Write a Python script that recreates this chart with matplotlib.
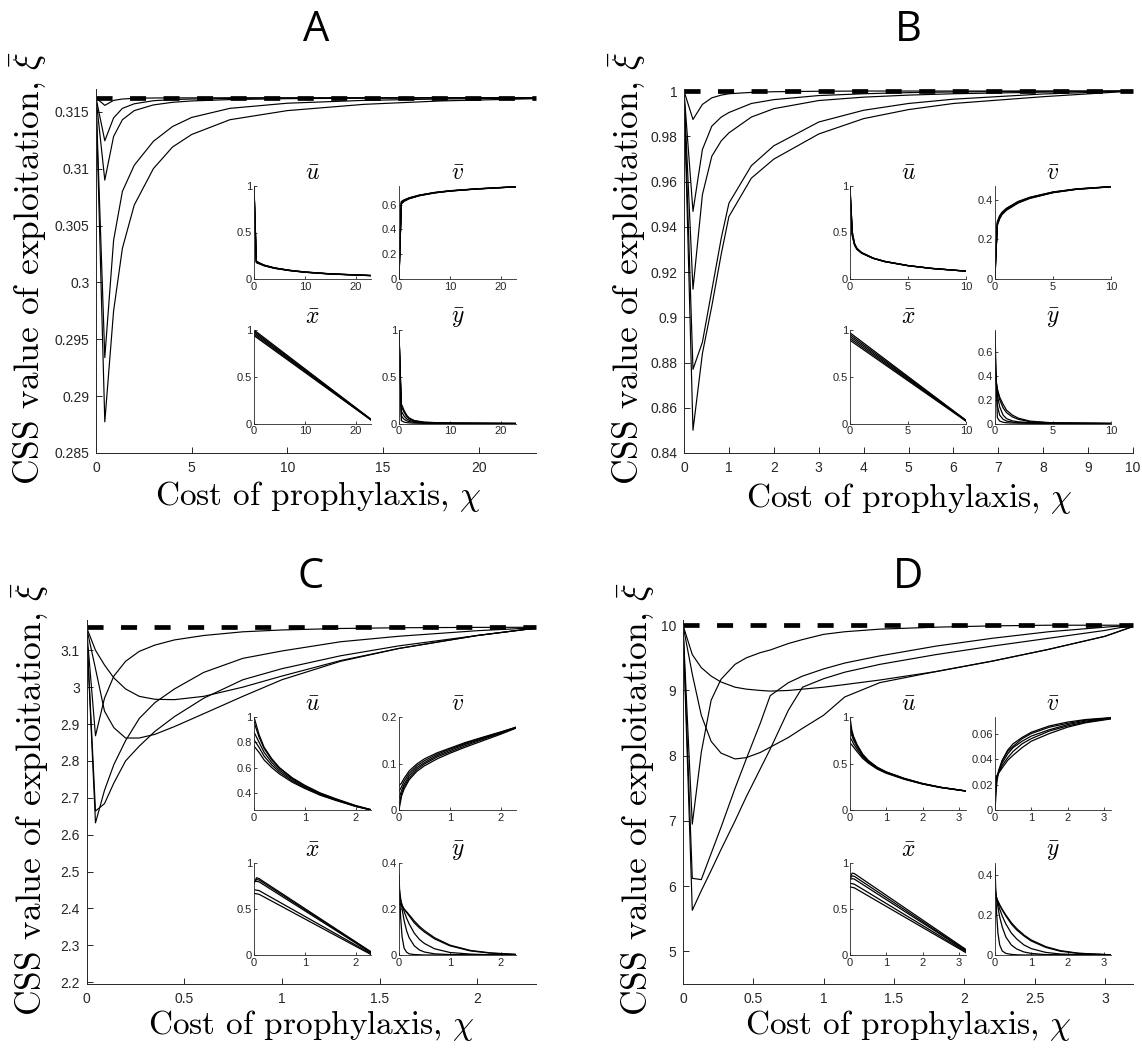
import matplotlib
matplotlib.use("Agg")
import matplotlib.pyplot as plt
from matplotlib.ticker import FuncFormatter, FixedLocator

plt.rcParams['mathtext.fontset'] = 'cm'

W, H = 1142, 1053

# ---------------- main panels: CSS exploitation vs prophylaxis cost ----------------
A_chi = [0, 0.46, 0.92, 1.38, 2.0, 3.0, 4.0, 5.0, 7.0, 10, 14, 18, 23]
A_xi = [
    [0.31623, 0.31556, 0.31600, 0.31612, 0.31618, 0.31621, 0.31622, 0.31622, 0.31623, 0.31623, 0.31623, 0.31623, 0.31623],
    [0.31623, 0.31245, 0.31446, 0.31530, 0.31570, 0.31597, 0.31607, 0.31612, 0.31617, 0.31620, 0.31622, 0.31623, 0.31623],
    [0.31623, 0.30899, 0.31283, 0.31430, 0.31510, 0.31560, 0.31583, 0.31595, 0.31607, 0.31615, 0.31619, 0.31621, 0.31623],
    [0.31623, 0.29339, 0.30370, 0.30800, 0.31030, 0.31240, 0.31370, 0.31450, 0.31530, 0.31575, 0.31600, 0.31612, 0.31620],
    [0.31623, 0.28774, 0.29750, 0.30300, 0.30680, 0.31000, 0.31190, 0.31300, 0.31430, 0.31510, 0.31565, 0.31595, 0.31615],
]
A_ess = 0.31623
A_xticks = [0, 5, 10, 15, 20]
A_yticks = [0.285, 0.29, 0.295, 0.3, 0.305, 0.31, 0.315]

B_chi = [0, 0.2, 0.41, 0.62, 0.83, 1.0, 1.5, 2.0, 3.0, 4.0, 5.0, 6.0, 8.0, 10.0]
B_xi = [
    [1, 0.98744, 0.99409, 0.9970, 0.9982, 0.9988, 0.9994, 0.9997, 0.9999, 1, 1, 1, 1, 1],
    [1, 0.9468, 0.97415, 0.9845, 0.9885, 0.9905, 0.9945, 0.9962, 0.9980, 0.9988, 0.9993, 0.9996, 0.9999, 1],
    [1, 0.9124, 0.95421, 0.9712, 0.9780, 0.9815, 0.9885, 0.9922, 0.9958, 0.9973, 0.9982, 0.9988, 0.9995, 1],
    [1, 0.87696, 0.889, 0.912, 0.935, 0.9504, 0.9670, 0.9758, 0.9863, 0.9915, 0.9945, 0.9964, 0.9987, 1],
    [1, 0.85007, 0.884, 0.905, 0.928, 0.9445, 0.9615, 0.9699, 0.9810, 0.9878, 0.9918, 0.9945, 0.9975, 1],
]
B_ess = 1.0
B_xticks = [0, 1, 2, 3, 4, 5, 6, 7, 8, 9, 10]
B_yticks = [0.84, 0.86, 0.88, 0.9, 0.92, 0.94, 0.96, 0.98, 1.0]

C_chi = [0, 0.046, 0.092, 0.14, 0.2, 0.27, 0.35, 0.45, 0.6, 0.8, 1.0, 1.3, 1.6, 2.0, 2.3]
C_xi = [
    [3.1623, 3.100, 3.060, 3.025, 2.995, 2.975, 2.967, 2.966, 2.975, 3.000, 3.030, 3.072, 3.105, 3.140, 3.160],
    [3.1623, 3.050, 2.935, 2.890, 2.862, 2.862, 2.872, 2.893, 2.928, 2.975, 3.020, 3.070, 3.105, 3.140, 3.160],
    [3.1623, 2.868, 2.970, 3.030, 3.070, 3.097, 3.114, 3.128, 3.140, 3.150, 3.155, 3.159, 3.161, 3.162, 3.1623],
    [3.1623, 2.632, 2.720, 2.790, 2.855, 2.915, 2.958, 2.995, 3.040, 3.078, 3.098, 3.123, 3.138, 3.153, 3.161],
    [3.1623, 2.664, 2.684, 2.740, 2.800, 2.840, 2.880, 2.920, 2.970, 3.020, 3.050, 3.085, 3.112, 3.140, 3.160],
]
C_ess = 3.1623
C_xticks = [0, 0.5, 1, 1.5, 2]
C_yticks = [2.2, 2.3, 2.4, 2.5, 2.6, 2.7, 2.8, 2.9, 3.0, 3.1]

D_chi = [0, 0.066, 0.13, 0.2, 0.27, 0.37, 0.45, 0.55, 0.62, 0.75, 0.85, 1.0, 1.15, 1.4, 1.8, 2.2, 2.6, 3.0, 3.2]
D_xi = [
    [10, 6.95, 8.05, 8.85, 9.17, 9.40, 9.50, 9.58, 9.62, 9.72, 9.78, 9.86, 9.90, 9.94, 9.97, 9.99, 10.0, 10.0, 10.0],
    [10, 9.55, 9.35, 9.22, 9.13, 9.05, 9.02, 9.00, 8.99, 9.00, 9.02, 9.05, 9.09, 9.16, 9.29, 9.45, 9.63, 9.83, 9.98],
    [10, 9.25, 8.62, 8.22, 8.04, 7.95, 7.97, 8.05, 8.13, 8.28, 8.42, 8.62, 8.90, 9.12, 9.29, 9.45, 9.63, 9.83, 9.98],
    [10, 5.63, 5.93, 6.24, 6.56, 7.00, 7.37, 7.80, 8.10, 8.70, 9.05, 9.18, 9.28, 9.40, 9.55, 9.68, 9.80, 9.92, 10.0],
    [10, 6.12, 6.10, 6.50, 6.90, 7.50, 7.95, 8.50, 8.92, 9.12, 9.22, 9.33, 9.42, 9.53, 9.68, 9.80, 9.90, 9.97, 10.0],
]
D_ess = 10.0
D_xticks = [0, 0.5, 1, 1.5, 2, 2.5, 3]
D_yticks = [5, 6, 7, 8, 9, 10]

# ---------------- inset data: equilibrium densities ----------------
A_u_chi = [0, 0.46, 1, 2, 4, 7, 10, 15, 23]
A_u = [
    [1.00, 0.195, 0.175, 0.150, 0.120, 0.094, 0.076, 0.056, 0.038],
    [0.99, 0.190, 0.172, 0.148, 0.119, 0.093, 0.075, 0.055, 0.037],
    [0.98, 0.185, 0.170, 0.146, 0.118, 0.092, 0.074, 0.055, 0.037],
    [0.97, 0.180, 0.167, 0.144, 0.116, 0.091, 0.073, 0.054, 0.036],
    [0.96, 0.175, 0.164, 0.142, 0.115, 0.090, 0.072, 0.053, 0.036],
]
A_v = [
    [0.000, 0.625, 0.638, 0.655, 0.677, 0.698, 0.712, 0.727, 0.745],
    [0.005, 0.620, 0.635, 0.653, 0.675, 0.697, 0.711, 0.726, 0.744],
    [0.010, 0.615, 0.632, 0.651, 0.674, 0.696, 0.710, 0.726, 0.744],
    [0.015, 0.610, 0.629, 0.649, 0.673, 0.695, 0.709, 0.725, 0.743],
    [0.020, 0.605, 0.626, 0.647, 0.671, 0.694, 0.709, 0.725, 0.743],
]
A_x_chi = [0, 23]
A_x = [[1.00, 0.045], [0.985, 0.043], [0.97, 0.041], [0.955, 0.039], [0.94, 0.037]]
A_y_chi = [0, 0.46, 1, 1.5, 2, 3, 5, 10, 23]
A_y = [
    [1.00, 0.03, 0.015, 0.010, 0.007, 0.004, 0.002, 0.001, 0],
    [0.98, 0.08, 0.045, 0.030, 0.020, 0.012, 0.006, 0.002, 0],
    [0.96, 0.13, 0.080, 0.050, 0.035, 0.020, 0.009, 0.003, 0],
    [0.95, 0.18, 0.120, 0.075, 0.050, 0.027, 0.012, 0.004, 0],
    [0.93, 0.21, 0.140, 0.090, 0.060, 0.032, 0.014, 0.004, 0],
]

B_u_chi = [0, 0.2, 0.4, 0.6, 1, 2, 3, 5, 7, 10]
B_u = [
    [1.00, 0.50, 0.380, 0.330, 0.285, 0.225, 0.190, 0.145, 0.115, 0.085],
    [0.98, 0.49, 0.375, 0.327, 0.283, 0.224, 0.189, 0.144, 0.115, 0.085],
    [0.96, 0.48, 0.370, 0.324, 0.281, 0.223, 0.188, 0.144, 0.114, 0.084],
    [0.94, 0.47, 0.365, 0.321, 0.279, 0.222, 0.187, 0.143, 0.114, 0.084],
    [0.92, 0.46, 0.360, 0.318, 0.277, 0.221, 0.186, 0.143, 0.113, 0.084],
]
B_v = [
    [0.00, 0.290, 0.320, 0.337, 0.358, 0.392, 0.413, 0.440, 0.455, 0.467],
    [0.01, 0.285, 0.316, 0.334, 0.356, 0.390, 0.412, 0.439, 0.455, 0.467],
    [0.02, 0.280, 0.312, 0.331, 0.353, 0.388, 0.410, 0.438, 0.454, 0.466],
    [0.03, 0.275, 0.308, 0.328, 0.350, 0.386, 0.409, 0.437, 0.453, 0.466],
    [0.04, 0.270, 0.304, 0.325, 0.348, 0.384, 0.407, 0.436, 0.453, 0.466],
]
B_x_chi = [0, 10]
B_x = [[0.97, 0.035], [0.95, 0.032], [0.93, 0.030], [0.91, 0.028], [0.89, 0.025]]
B_y_chi = [0, 0.2, 0.4, 0.7, 1, 1.5, 2, 3, 5, 10]
B_y = [
    [0.76, 0.05, 0.02, 0.010, 0.006, 0.004, 0.003, 0.002, 0.001, 0],
    [0.62, 0.15, 0.07, 0.035, 0.020, 0.012, 0.008, 0.004, 0.002, 0],
    [0.50, 0.24, 0.14, 0.070, 0.040, 0.022, 0.014, 0.007, 0.003, 0],
    [0.42, 0.28, 0.20, 0.130, 0.090, 0.055, 0.035, 0.015, 0.004, 0],
    [0.38, 0.29, 0.22, 0.160, 0.110, 0.070, 0.045, 0.020, 0.005, 0],
]

C_u_chi = [0, 0.1, 0.2, 0.35, 0.5, 0.75, 1.0, 1.3, 1.6, 2.0, 2.3]
C_u = [
    [1.00, 0.86, 0.76, 0.67, 0.600, 0.520, 0.460, 0.400, 0.355, 0.300, 0.268],
    [0.96, 0.84, 0.75, 0.66, 0.595, 0.515, 0.455, 0.397, 0.352, 0.298, 0.267],
    [0.88, 0.80, 0.72, 0.64, 0.580, 0.505, 0.448, 0.392, 0.348, 0.296, 0.266],
    [0.82, 0.76, 0.69, 0.62, 0.565, 0.495, 0.440, 0.386, 0.344, 0.294, 0.265],
    [0.77, 0.72, 0.66, 0.60, 0.550, 0.485, 0.435, 0.382, 0.342, 0.293, 0.265],
]
C_v_chi = [0, 0.05, 0.1, 0.2, 0.35, 0.5, 0.75, 1.0, 1.3, 1.6, 2.0, 2.3]
C_v = [
    [0.000, 0.030, 0.045, 0.065, 0.083, 0.095, 0.110, 0.122, 0.135, 0.147, 0.163, 0.176],
    [0.010, 0.035, 0.050, 0.069, 0.087, 0.099, 0.114, 0.125, 0.138, 0.150, 0.165, 0.177],
    [0.025, 0.042, 0.055, 0.074, 0.091, 0.102, 0.117, 0.128, 0.141, 0.152, 0.166, 0.177],
    [0.040, 0.050, 0.062, 0.079, 0.095, 0.106, 0.120, 0.131, 0.143, 0.154, 0.167, 0.178],
    [0.052, 0.058, 0.068, 0.084, 0.099, 0.110, 0.123, 0.133, 0.145, 0.155, 0.168, 0.178],
]
C_x_chi = [0, 0.05, 0.1, 2.3]
C_x = [
    [0.78, 0.84, 0.830, 0.035],
    [0.79, 0.82, 0.815, 0.030],
    [0.80, 0.80, 0.795, 0.025],
    [0.71, 0.705, 0.700, 0.015],
    [0.67, 0.665, 0.660, 0.005],
]
C_y_chi = [0, 0.03, 0.06, 0.1, 0.15, 0.2, 0.3, 0.4, 0.5, 0.7, 1.0, 1.4, 1.8, 2.3]
C_y = [
    [0.35, 0.170, 0.080, 0.030, 0.012, 0.005, 0.002, 0.001, 0.000, 0.000, 0.000, 0.000, 0.000, 0.000],
    [0.30, 0.250, 0.200, 0.150, 0.105, 0.075, 0.040, 0.022, 0.013, 0.005, 0.002, 0.001, 0.000, 0.000],
    [0.26, 0.240, 0.220, 0.190, 0.160, 0.135, 0.095, 0.068, 0.050, 0.027, 0.011, 0.004, 0.001, 0.000],
    [0.23, 0.225, 0.215, 0.200, 0.185, 0.170, 0.140, 0.118, 0.100, 0.070, 0.040, 0.018, 0.008, 0.002],
    [0.22, 0.218, 0.212, 0.200, 0.188, 0.175, 0.148, 0.125, 0.106, 0.075, 0.043, 0.020, 0.009, 0.003],
]

D_u_chi = [0, 0.05, 0.1, 0.2, 0.35, 0.5, 0.75, 1.0, 1.5, 2.0, 2.5, 3.2]
D_u = [
    [1.00, 0.86, 0.79, 0.700, 0.600, 0.535, 0.460, 0.410, 0.340, 0.285, 0.245, 0.205],
    [0.92, 0.83, 0.77, 0.690, 0.595, 0.530, 0.457, 0.408, 0.338, 0.284, 0.244, 0.205],
    [0.86, 0.80, 0.75, 0.675, 0.585, 0.525, 0.453, 0.405, 0.336, 0.283, 0.243, 0.204],
    [0.78, 0.75, 0.71, 0.650, 0.570, 0.515, 0.447, 0.400, 0.333, 0.281, 0.242, 0.204],
    [0.72, 0.70, 0.675, 0.625, 0.555, 0.505, 0.440, 0.395, 0.330, 0.279, 0.241, 0.203],
]
D_v_chi = [0, 0.05, 0.1, 0.2, 0.35, 0.5, 0.75, 1.0, 1.5, 2.0, 2.5, 3.2]
D_v = [
    [0.000, 0.022, 0.030, 0.039, 0.047, 0.052, 0.057, 0.061, 0.066, 0.069, 0.0710, 0.0725],
    [0.008, 0.024, 0.031, 0.039, 0.046, 0.050, 0.056, 0.060, 0.065, 0.068, 0.0705, 0.0723],
    [0.016, 0.025, 0.030, 0.037, 0.044, 0.049, 0.054, 0.058, 0.063, 0.067, 0.0698, 0.0720],
    [0.022, 0.026, 0.029, 0.035, 0.041, 0.046, 0.052, 0.056, 0.062, 0.066, 0.0690, 0.0718],
    [0.025, 0.027, 0.029, 0.033, 0.039, 0.043, 0.049, 0.054, 0.060, 0.065, 0.0685, 0.0715],
]
D_x_chi = [0, 0.06, 0.12, 3.2]
D_x = [
    [0.84, 0.890, 0.885, 0.060],
    [0.83, 0.860, 0.855, 0.050],
    [0.82, 0.830, 0.825, 0.045],
    [0.78, 0.775, 0.770, 0.035],
    [0.74, 0.735, 0.730, 0.025],
]
D_y_chi = [0, 0.04, 0.08, 0.13, 0.2, 0.3, 0.45, 0.6, 0.8, 1.0, 1.4, 1.8, 2.3, 3.2]
D_y = [
    [0.44, 0.220, 0.110, 0.050, 0.020, 0.008, 0.003, 0.001, 0.000, 0.000, 0.000, 0.000, 0.000, 0.000],
    [0.35, 0.290, 0.240, 0.190, 0.140, 0.090, 0.050, 0.030, 0.015, 0.008, 0.002, 0.001, 0.000, 0.000],
    [0.32, 0.290, 0.260, 0.230, 0.195, 0.155, 0.110, 0.080, 0.050, 0.032, 0.013, 0.005, 0.002, 0.000],
    [0.30, 0.285, 0.270, 0.250, 0.225, 0.195, 0.155, 0.125, 0.095, 0.070, 0.038, 0.019, 0.008, 0.001],
    [0.29, 0.280, 0.268, 0.250, 0.228, 0.200, 0.162, 0.132, 0.100, 0.075, 0.042, 0.022, 0.009, 0.001],
]

# ---------------- drawing helpers ----------------
fig = plt.figure(figsize=(W / 100, H / 100), dpi=100)
AX_COL = '#262626'
fmt = FuncFormatter(lambda v, p: f'{v:g}')


def box(l, t, r, b):
    return fig.add_axes([l / W, 1 - b / H, (r - l) / W, (b - t) / H])


def style(ax, xt, yt, size, tlen, pad_x, pad_y, lw):
    for s in ('top', 'right'):
        ax.spines[s].set_visible(False)
    for s in ('left', 'bottom'):
        ax.spines[s].set_color(AX_COL)
        ax.spines[s].set_linewidth(lw)
    ax.xaxis.set_major_locator(FixedLocator(xt))
    ax.yaxis.set_major_locator(FixedLocator(yt))
    ax.xaxis.set_major_formatter(fmt)
    ax.yaxis.set_major_formatter(fmt)
    ax.tick_params(direction='in', length=tlen, width=lw, colors=AX_COL,
                   labelsize=size, labelcolor=AX_COL)
    ax.tick_params(axis='x', pad=pad_x)
    ax.tick_params(axis='y', pad=pad_y)
    for lab in ax.get_xticklabels() + ax.get_yticklabels():
        lab.set_fontfamily('Liberation Sans')
    ax.set_facecolor('none')


def inset(l, t, r, b, chi, curves, xlim, ylim, xt, yt, title):
    ax = box(l, t, r, b)
    for c in curves:
        ax.plot(chi, c, color='black', lw=0.9)
    ax.set_xlim(*xlim)
    ax.set_ylim(*ylim)
    style(ax, xt, yt, 8, 2, 2, 1.5, 0.6)
    ax.set_title(title, fontsize=17, pad=4)
    return ax


panels = [
    dict(letter='A', box=(96, 89, 536, 453), chi=A_chi, xi=A_xi, ess=A_ess,
         xlim=(0, 23), ylim=(0.285, 0.3170), xt=A_xticks, yt=A_yticks,
         ux=(254, 371), vx=(399, 516), top=(186, 279), bot=(330, 423.5),
         ylab_x=28, xlab_x=318, xlab_y=505, ttl=(316, 41),
         ins=[(A_u_chi, A_u, (0, 23), (0, 1), [0, 10, 20], [0, 0.5, 1], r'$\bar{u}$'),
              (A_u_chi, A_v, (0, 23), (0, 0.75), [0, 10, 20], [0, 0.2, 0.4, 0.6], r'$\bar{v}$'),
              (A_x_chi, A_x, (0, 23), (0, 1), [0, 10, 20], [0, 0.5, 1], r'$\bar{x}$'),
              (A_y_chi, A_y, (0, 23), (0, 1), [0, 10, 20], [0, 0.5, 1], r'$\bar{y}$')]),
    dict(letter='B', box=(684, 89, 1133, 453), chi=B_chi, xi=B_xi, ess=B_ess,
         xlim=(0, 10), ylim=(0.84, 1.0009), xt=B_xticks, yt=B_yticks,
         ux=(850, 966), vx=(995, 1111), top=(186, 279), bot=(330, 423.5),
         ylab_x=627, xlab_x=909, xlab_y=507, ttl=(908, 41),
         ins=[(B_u_chi, B_u, (0, 10), (0, 1), [0, 5, 10], [0, 0.5, 1], r'$\bar{u}$'),
              (B_u_chi, B_v, (0, 10), (0, 0.47), [0, 5, 10], [0, 0.2, 0.4], r'$\bar{v}$'),
              (B_x_chi, B_x, (0, 10), (0, 1), [0, 5, 10], [0, 0.5, 1], r'$\bar{x}$'),
              (B_y_chi, B_y, (0, 10), (0, 0.78), [0, 5, 10], [0, 0.2, 0.4, 0.6], r'$\bar{y}$')]),
    dict(letter='C', box=(86.5, 620, 536, 984), chi=C_chi, xi=C_xi, ess=C_ess,
         xlim=(0, 2.3), ylim=(2.195, 3.182), xt=C_xticks, yt=C_yticks,
         ux=(254, 371), vx=(399, 516), top=(717, 810), bot=(863, 955),
         ylab_x=30, xlab_x=311, xlab_y=1034, ttl=(311, 588),
         ins=[(C_u_chi, C_u, (0, 2.3), (0.265, 1), [0, 1, 2], [0.4, 0.6, 0.8, 1], r'$\bar{u}$'),
              (C_v_chi, C_v, (0, 2.3), (0, 0.2), [0, 1, 2], [0, 0.1, 0.2], r'$\bar{v}$'),
              (C_x_chi, C_x, (0, 2.3), (0, 1), [0, 1, 2], [0, 0.5, 1], r'$\bar{x}$'),
              (C_y_chi, C_y, (0, 2.3), (0, 0.4), [0, 1, 2], [0, 0.2, 0.4], r'$\bar{y}$')]),
    dict(letter='D', box=(683, 620, 1133, 984), chi=D_chi, xi=D_xi, ess=D_ess,
         xlim=(0, 3.2), ylim=(4.5, 10.08), xt=D_xticks, yt=D_yticks,
         ux=(850, 966), vx=(995, 1111), top=(717, 810), bot=(863, 955),
         ylab_x=636, xlab_x=908, xlab_y=1034, ttl=(908, 588),
         ins=[(D_u_chi, D_u, (0, 3.2), (0, 1), [0, 1, 2, 3], [0, 0.5, 1], r'$\bar{u}$'),
              (D_v_chi, D_v, (0, 3.2), (0, 0.073), [0, 1, 2, 3], [0, 0.02, 0.04, 0.06], r'$\bar{v}$'),
              (D_x_chi, D_x, (0, 3.2), (0, 1), [0, 1, 2, 3], [0, 0.5, 1], r'$\bar{x}$'),
              (D_y_chi, D_y, (0, 3.2), (0, 0.46), [0, 1, 2, 3], [0, 0.2, 0.4], r'$\bar{y}$')]),
]

for p in panels:
    l, t, r, b = p['box']
    ax = box(l, t, r, b)
    for c in p['xi']:
        ax.plot(p['chi'], c, color='black', lw=0.85)
    ax.plot(p['xlim'], [p['ess'], p['ess']], color='black', lw=3.4,
            dashes=(3.4, 3.7), dash_capstyle='butt', clip_on=False)
    ax.set_xlim(*p['xlim'])
    ax.set_ylim(*p['ylim'])
    style(ax, p['xt'], p['yt'], 10, 4, 5.5, 4.8, 0.7)

    # panel letter, axis labels
    fig.text(p['ttl'][0] / W, 1 - p['ttl'][1] / H, p['letter'], fontsize=30,
             fontfamily='Open Sans', ha='center', va='baseline')
    fig.text(p['xlab_x'] / W, 1 - p['xlab_y'] / H, r'Cost of prophylaxis, $\chi$',
             fontsize=24, fontfamily='cmr10', ha='center', va='baseline')
    fig.text(p['ylab_x'] / W, 1 - ((t + b) / 2 - 3) / H, r'CSS value of exploitation, $\bar{\xi}$',
             fontsize=25.5, fontfamily='cmr10', rotation=90, ha='center', va='center')

    ins = p['ins']
    inset(p['ux'][0], p['top'][0], p['ux'][1], p['top'][1], *ins[0])
    inset(p['vx'][0], p['top'][0], p['vx'][1], p['top'][1], *ins[1])
    inset(p['ux'][0], p['bot'][0], p['ux'][1], p['bot'][1], *ins[2])
    inset(p['vx'][0], p['bot'][0], p['vx'][1], p['bot'][1], *ins[3])

fig.savefig('out.png', dpi=100, facecolor='white')
